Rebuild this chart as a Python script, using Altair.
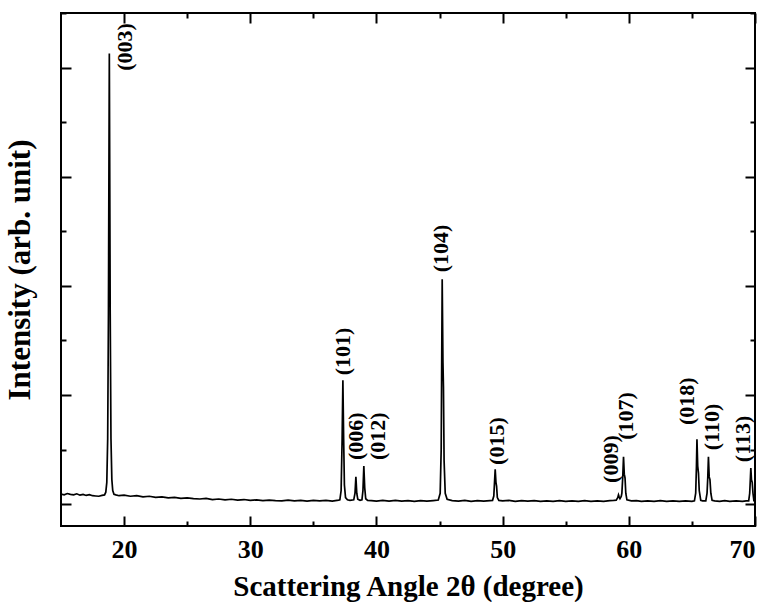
import altair as alt
import pandas as pd

# Diffraction pattern (2θ in degrees, intensity in arbitrary units)
angle = [
    15.0, 15.25, 15.5, 15.75, 16.0, 16.25, 16.5, 16.75, 17.0, 17.25, 17.5, 17.75, 18.0, 18.25,
    18.45, 18.55, 18.63, 18.7, 18.76, 18.83, 18.9, 18.96, 19.03, 19.1, 19.2,
    19.35, 19.6, 20.0, 20.5, 21.0, 21.5, 22.0, 22.5, 23.0, 23.5, 24.0, 24.5, 25.0, 25.5,
    26.0, 26.5, 27.0, 27.5, 28.0, 28.5, 29.0, 29.5, 30.0, 30.5, 31.0, 31.5, 32.0, 32.5,
    33.0, 33.5, 34.0, 34.5, 35.0, 35.5, 36.0, 36.5, 37.0,
    37.1, 37.2, 37.28, 37.34, 37.4, 37.46, 37.55, 37.7, 37.9,
    38.2, 38.3, 38.37, 38.44, 38.52, 38.7,
    38.85, 38.93, 39.0, 39.07, 39.15, 39.3,
    39.6, 40.0, 40.5, 41.0, 41.5, 42.0, 42.5, 43.0, 43.5, 44.0, 44.5, 44.9,
    45.05, 45.13, 45.21, 45.27, 45.31, 45.36, 45.45, 45.6,
    46.0, 46.5, 47.0, 47.5, 48.0, 48.5, 49.0, 49.2,
    49.3, 49.41, 49.47, 49.52, 49.58, 49.7,
    50.0, 50.5, 51.0, 51.5, 52.0, 52.5, 53.0, 53.5, 54.0, 54.5, 55.0, 55.5, 56.0, 56.5,
    57.0, 57.5, 58.0, 58.5, 58.8, 59.0,
    59.12, 59.18, 59.24, 59.3, 59.4, 59.45, 59.52, 59.58, 59.64, 59.7, 59.76, 59.85,
    60.2, 60.6, 61.0, 61.5, 62.0, 62.5, 63.0, 63.5, 64.0, 64.5, 65.0, 65.2,
    65.3, 65.36, 65.4, 65.46, 65.52, 65.58, 65.7, 65.85,
    66.1, 66.2, 66.26, 66.31, 66.37, 66.43, 66.5, 66.6,
    66.8, 67.2, 67.6, 68.0, 68.5, 69.0, 69.3, 69.5,
    69.58, 69.64, 69.67, 69.72, 69.78, 69.84, 69.92, 70.0,
]
intensity = [
    0.185, 0.170, 0.195, 0.180, 0.170, 0.190, 0.165, 0.180, 0.160, 0.175, 0.155, 0.150, 0.145, 0.160,
    0.170, 0.220, 0.400, 1.200, 3.500, 8.260, 3.500, 1.200, 0.450, 0.250, 0.180,
    0.170, 0.155, 0.165, 0.145, 0.155, 0.135, 0.145, 0.125, 0.135, 0.115, 0.125, 0.105, 0.115, 0.100,
    0.095, 0.105, 0.085, 0.095, 0.080, 0.090, 0.075, 0.085, 0.070, 0.080, 0.065, 0.075, 0.065, 0.060,
    0.075, 0.060, 0.070, 0.055, 0.070, 0.060, 0.070, 0.055, 0.075,
    0.080, 0.250, 1.200, 2.270, 1.200, 0.350, 0.120, 0.080, 0.070,
    0.080, 0.200, 0.500, 0.200, 0.090, 0.070,
    0.080, 0.250, 0.700, 0.300, 0.100, 0.070,
    0.065, 0.055, 0.070, 0.055, 0.070, 0.055, 0.065, 0.050, 0.065, 0.055, 0.065, 0.075,
    0.200, 1.000, 4.120, 2.600, 2.140, 0.800, 0.200, 0.090,
    0.065, 0.055, 0.070, 0.050, 0.065, 0.055, 0.065, 0.070,
    0.150, 0.640, 0.400, 0.330, 0.120, 0.070,
    0.060, 0.070, 0.050, 0.065, 0.055, 0.065, 0.050, 0.060, 0.050, 0.065, 0.050, 0.060, 0.050, 0.065,
    0.050, 0.060, 0.050, 0.065, 0.070, 0.075,
    0.120, 0.170, 0.130, 0.100, 0.140, 0.200, 0.500, 0.870, 0.550, 0.480, 0.200, 0.080,
    0.060, 0.065, 0.050, 0.060, 0.050, 0.065, 0.050, 0.060, 0.050, 0.060, 0.050, 0.060,
    0.200, 0.700, 1.190, 0.700, 0.570, 0.250, 0.070, 0.060,
    0.060, 0.200, 0.500, 0.870, 0.500, 0.450, 0.200, 0.070,
    0.060, 0.050, 0.065, 0.050, 0.060, 0.050, 0.060, 0.060,
    0.200, 0.500, 0.660, 0.450, 0.400, 0.200, 0.050, 0.100,
]

# Peak (hkl) labels: text, 2θ position and intensity at the label's lower end
peak_labels = ["(003)", "(101)", "(006)", "(012)", "(104)", "(015)",
               "(009)", "(107)", "(018)", "(110)", "(113)"]
label_angle = [20.09, 37.37, 38.40, 40.14, 45.10, 49.57, 58.60, 59.79, 64.62, 66.60, 69.05]
label_intensity = [7.94, 2.36, 0.81, 0.81, 4.25, 0.72, 0.39, 1.18, 1.45, 0.99, 0.77]

x_major = [20, 30, 40, 50, 60, 70]
x_minor = [25, 35, 45, 55, 65]
y_major = [0, 2, 4, 6, 8]
y_minor = [1, 3, 5, 7, 9]

W, H = 694, 513
FONT = "Liberation Serif"

df = pd.DataFrame({"angle": angle, "intensity": intensity})
labels_df = pd.DataFrame({"label": peak_labels, "angle": label_angle, "intensity": label_intensity})

xs = alt.Scale(domain=[15, 70], nice=False, zero=False)
ys = alt.Scale(domain=[-0.4, 9], nice=False, zero=False)


def tick_axis(orient, vals, size):
    # inward ticks: the axis is pulled inside the frame by its own tick length
    return alt.Axis(orient=orient, offset=-size, values=vals, tickSize=size, tickWidth=2,
                    tickColor="black", labels=False, domain=False, grid=False, title=None)


line = alt.Chart(df).mark_line(color="black", strokeWidth=1.7, clip=True).encode(
    x=alt.X("angle:Q", scale=xs, axis=alt.Axis(
        orient="bottom", values=x_major, ticks=False, domain=False, grid=False,
        labelFont=FONT, labelFontSize=26, labelFontWeight="bold", labelColor="black",
        labelPadding=10, title="Scattering Angle 2θ (degree)", titleFont=FONT,
        titleFontSize=29, titleFontWeight="bold", titleColor="black", titlePadding=10)),
    y=alt.Y("intensity:Q", scale=ys, axis=alt.Axis(
        orient="left", labels=False, ticks=False, domain=False, grid=False,
        title="Intensity (arb. unit)", titleFont=FONT, titleFontSize=31,
        titleFontWeight="bold", titleColor="black", titlePadding=25)),
)

text = alt.Chart(labels_df).mark_text(
    angle=270, align="left", baseline="middle", font=FONT, fontSize=22,
    fontWeight="bold", color="black").encode(
    x=alt.X("angle:Q", scale=xs, axis=tick_axis("top", x_major, 10)),
    y=alt.Y("intensity:Q", scale=ys, axis=tick_axis("right", y_major, 10)),
    text="label:N",
)


def tick_layer(xorient, xvals, xsize, yorient, yvals, ysize):
    return alt.Chart(df).mark_point(opacity=0).encode(
        x=alt.X("angle:Q", scale=xs, axis=tick_axis(xorient, xvals, xsize)),
        y=alt.Y("intensity:Q", scale=ys, axis=tick_axis(yorient, yvals, ysize)),
    )


t1 = tick_layer("bottom", x_major, 10, "left", y_major, 10)
t2 = tick_layer("top", x_minor, 5, "right", y_minor, 5)
t3 = tick_layer("bottom", x_minor, 5, "left", y_minor, 5)

chart = alt.layer(line, text, t1, t2, t3).resolve_axis(
    x="independent", y="independent"
).properties(
    width=W, height=H, autosize="none",
    padding={"left": 61, "top": 13, "right": 14, "bottom": 76},
    background="white",
).configure_view(stroke="black", strokeWidth=2)

chart.save("out.html", embed_options={"renderer": "svg", "actions": False})
